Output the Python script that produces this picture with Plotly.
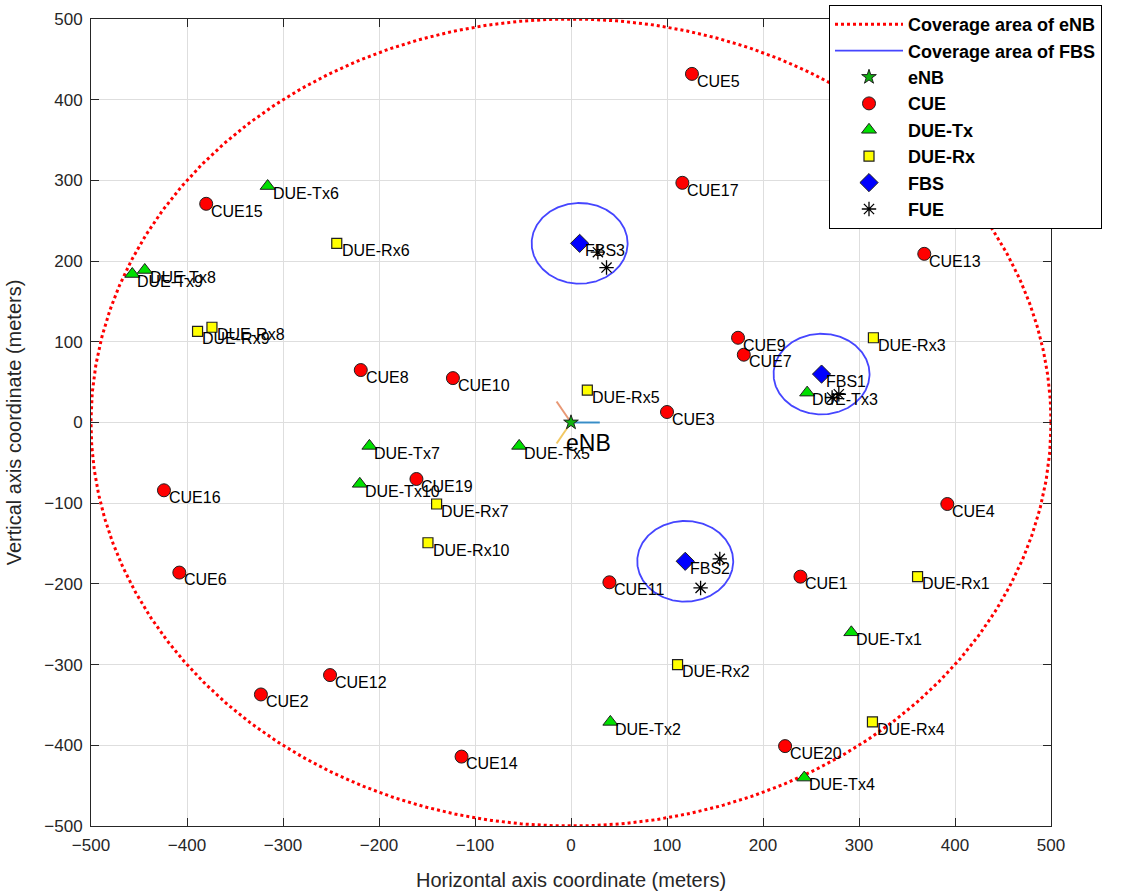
import numpy as np
import plotly.graph_objects as go

# ---- network layout (meters) ----
enb_x, enb_y = 0, 0
enb_radius = 500
fbs_radius = 50

sector_angles = [0, 120, 240]      # eNB sector antenna directions (deg)
sector_len = 30
sector_colors = ["rgba(0,114,189,0.75)", "rgba(217,83,25,0.6)", "rgba(237,177,32,0.7)"]

cue_names = ["CUE1", "CUE2", "CUE3", "CUE4", "CUE5", "CUE6", "CUE7", "CUE8", "CUE9", "CUE10",
             "CUE11", "CUE12", "CUE13", "CUE14", "CUE15", "CUE16", "CUE17", "CUE19", "CUE20"]
cue_x = [239, -323, 100, 392, 126, -408, 180, -219, 174, -123,
         40, -251, 368, -114, -380, -424, 116, -161, 223]
cue_y = [-191, -337, 13, -101, 432, -186, 84, 65, 105, 55,
         -198, -313, 209, -414, 271, -84, 297, -70, -401]

dtx_names = ["DUE-Tx1", "DUE-Tx2", "DUE-Tx3", "DUE-Tx4", "DUE-Tx5",
             "DUE-Tx6", "DUE-Tx7", "DUE-Tx8", "DUE-Tx9", "DUE-Tx10"]
dtx_x = [292, 41, 246, 243, -54, -316, -210, -444, -457, -220]
dtx_y = [-260, -371, 37, -440, -29, 293, -29, 189, 184, -76]

drx_names = ["DUE-Rx1", "DUE-Rx2", "DUE-Rx3", "DUE-Rx4", "DUE-Rx5",
             "DUE-Rx6", "DUE-Rx7", "DUE-Rx8", "DUE-Rx9", "DUE-Rx10"]
drx_x = [361, 111, 315, 314, 17, -244, -140, -374, -389, -149]
drx_y = [-191, -300, 105, -371, 40, 222, -101, 118, 113, -149]

fbs_names = ["FBS1", "FBS2", "FBS3"]
fbs_x = [261, 119, 9]
fbs_y = [60, -172, 222]

fue_x = [28, 37, 272, 279, 155, 135]
fue_y = [211, 192, 31, 35, -169, -205]

FONT = "Liberation Sans, Arial, sans-serif"
INK = "#262626"


def circle_outline(cx, cy, r, n=361):
    t = np.linspace(0, 2 * np.pi, n)
    return cx + r * np.cos(t), cy + r * np.sin(t)


fig = go.Figure()

# coverage of the macro cell
ex, ey = circle_outline(enb_x, enb_y, enb_radius, 721)
fig.add_trace(go.Scatter(x=ex, y=ey, mode="lines", name="<b>Coverage area of eNB</b>",
                         line=dict(color="#ff0000", width=3, dash="dot"),
                         hoverinfo="skip"))

# coverage of each femto cell (one trace, gaps between circles)
fx, fy = [], []
for cx, cy in zip(fbs_x, fbs_y):
    px_, py_ = circle_outline(cx, cy, fbs_radius)
    fx += list(px_) + [None]
    fy += list(py_) + [None]
fig.add_trace(go.Scatter(x=fx, y=fy, mode="lines", name="<b>Coverage area of FBS</b>",
                         line=dict(color="#4545ff", width=1.8),
                         hoverinfo="skip"))

# eNB sector antennas
for ang, col in zip(sector_angles, sector_colors):
    a = np.deg2rad(ang)
    fig.add_trace(go.Scatter(x=[enb_x, enb_x + sector_len * np.cos(a)],
                             y=[enb_y, enb_y + sector_len * np.sin(a)],
                             mode="lines", line=dict(color=col, width=2),
                             showlegend=False, hoverinfo="skip"))

fig.add_trace(go.Scatter(x=[enb_x], y=[enb_y], mode="markers", name="<b>eNB</b>",
                         marker=dict(symbol="star", size=11, color="#10b010",
                                     line=dict(color="#202020", width=1))))
fig.add_trace(go.Scatter(x=cue_x, y=cue_y, mode="markers", name="<b>CUE</b>",
                         marker=dict(symbol="circle", size=13, color="#ff0000",
                                     line=dict(color="#202020", width=1))))
fig.add_trace(go.Scatter(x=dtx_x, y=dtx_y, mode="markers", name="<b>DUE-Tx</b>",
                         marker=dict(symbol="triangle-up", size=13, color="#00e000",
                                     line=dict(color="#202020", width=1))))
fig.add_trace(go.Scatter(x=drx_x, y=drx_y, mode="markers", name="<b>DUE-Rx</b>",
                         marker=dict(symbol="square", size=10, color="#ffff00",
                                     line=dict(color="#202020", width=1.2))))
fig.add_trace(go.Scatter(x=fbs_x, y=fbs_y, mode="markers", name="<b>FBS</b>",
                         marker=dict(symbol="diamond", size=14, color="#0000ff",
                                     line=dict(color="#202020", width=1))))
fig.add_trace(go.Scatter(x=fue_x, y=fue_y, mode="markers", name="<b>FUE</b>",
                         marker=dict(symbol="asterisk-open", size=12, color="#000000",
                                     line=dict(color="#000000", width=1.3))))

# node labels, placed just right of and below each marker
label_dx, label_dy = 3, -9
annotations = []
for names, xs, ys in [(cue_names, cue_x, cue_y), (dtx_names, dtx_x, dtx_y),
                      (drx_names, drx_x, drx_y), (fbs_names, fbs_x, fbs_y)]:
    for n, x, y in zip(names, xs, ys):
        annotations.append(dict(x=x + label_dx, y=y + label_dy, text=n, showarrow=False,
                                xanchor="left", yanchor="middle",
                                font=dict(family=FONT, size=16, color="#000000")))
annotations.append(dict(x=enb_x - 7, y=enb_y - 26, text="eNB", showarrow=False,
                        xanchor="left", yanchor="middle",
                        font=dict(family=FONT, size=23, color="#000000")))

axis_common = dict(range=[-500, 500], dtick=100, showgrid=True, gridcolor="#dedede",
                   gridwidth=1, zeroline=False, showline=True, linecolor=INK, linewidth=1,
                   mirror="ticks", ticks="inside", ticklen=8, tickcolor=INK,
                   ticklabelstandoff=4,
                   tickfont=dict(family=FONT, size=17, color=INK))

fig.update_layout(
    width=1122, height=895,
    margin=dict(l=91, r=71, t=19, b=69, autoexpand=False),
    paper_bgcolor="white", plot_bgcolor="white",
    font=dict(family=FONT, color=INK),
    xaxis=dict(axis_common, title=dict(text="Horizontal axis coordinate (meters)",
                                       font=dict(family=FONT, size=20, color=INK), standoff=18)),
    yaxis=dict(axis_common, title=dict(text="Vertical axis coordinate (meters)",
                                       font=dict(family=FONT, size=20, color=INK), standoff=17)),
    legend=dict(xref="container", yref="container", x=829 / 1122, y=1 - 5 / 895,
                xanchor="left", yanchor="top",
                bgcolor="white", bordercolor="#000000", borderwidth=1,
                font=dict(family=FONT, size=18, color="#000000"),
                tracegroupgap=0, itemwidth=68),
    annotations=annotations,
    showlegend=True,
)

fig.write_html("out.html")
